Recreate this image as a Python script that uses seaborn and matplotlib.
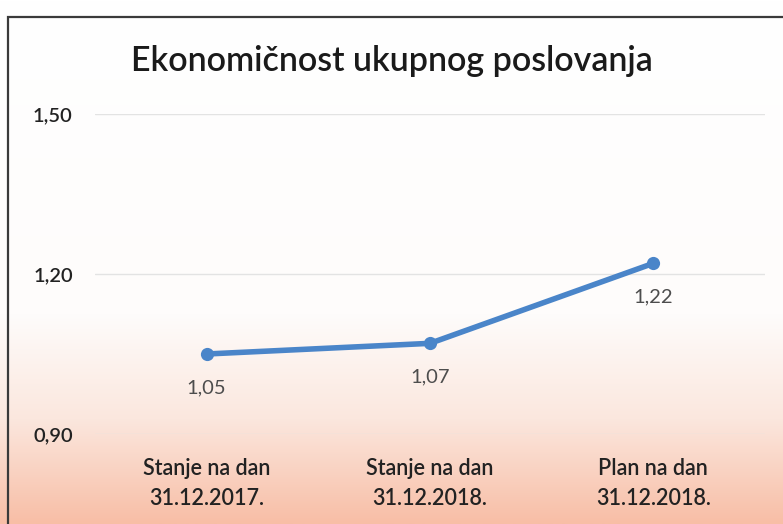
import matplotlib
matplotlib.use("Agg")
import matplotlib.pyplot as plt
import numpy as np
import pandas as pd
import seaborn as sns
from matplotlib.colors import LinearSegmentedColormap
from matplotlib.patches import Rectangle

categories = ["Stanje na dan\n31.12.2017.", "Stanje na dan\n31.12.2018.", "Plan na dan\n31.12.2018."]
values = [1.05, 1.07, 1.22]
value_labels = ["1,05", "1,07", "1,22"]
y_ticks = [0.90, 1.20, 1.50]
y_tick_labels = ["0,90", "1,20", "1,50"]
title = "Ekonomičnost ukupnog poslovanja"

sns.set_theme(style="white")
plt.rcParams["font.family"] = ["Lato", "DejaVu Sans"]

df = pd.DataFrame({"kategorija": categories, "vrijednost": values})

fig = plt.figure(figsize=(7.83, 5.24), dpi=100)

# background: white fading to peach at the bottom
bg = fig.add_axes([0, 0, 1, 1], zorder=-10)
grad = np.linspace(0, 1, 256).reshape(-1, 1)
cmap = LinearSegmentedColormap.from_list(
    "bgfade", [(0.0, "#ffffff"), (0.6, "#fefcfb"), (0.8, "#fbe7de"), (1.0, "#f8bea6")]
)
bg.imshow(grad, aspect="auto", cmap=cmap, extent=[0, 1, 0, 1], origin="upper")
bg.add_patch(Rectangle((8 / 783, -0.1), 1.2, 1 - 17 / 524 + 0.1, fill=False,
                       edgecolor="#3a3a3a", lw=1.6, transform=bg.transAxes))
bg.set_xlim(0, 1)
bg.set_ylim(0, 1)
bg.axis("off")

ax = fig.add_axes([95 / 783, 1 - 434 / 524, 670 / 783, 320 / 524])
ax.patch.set_alpha(0)
sns.lineplot(data=df, x="kategorija", y="vrijednost", ax=ax, color="#4a85c9",
             lw=4, marker="o", markersize=9.5, markeredgewidth=0, sort=False)

for i, (v, lab) in enumerate(zip(values, value_labels)):
    ax.annotate(lab, (i, v), xytext=(0, -18), textcoords="offset points",
                ha="center", va="top", fontsize=14.5, color="#4d4d4d")

ax.set_xlim(-0.5, 2.5)
ax.set_ylim(0.90, 1.50)
ax.set_yticks(y_ticks, y_tick_labels)
ax.set_xticks(range(len(categories)), categories)
for t in ax.get_xticklabels():
    t.set_linespacing(1.55)
    t.set_fontweight("semibold")
for t in ax.get_yticklabels():
    t.set_fontweight("semibold")
ax.grid(axis="y", color="#e3e3e3", lw=1)
ax.tick_params(axis="y", length=0, labelsize=14.5, labelcolor="#222222", pad=16)
ax.tick_params(axis="x", length=0, labelsize=15.5, labelcolor="#222222", pad=17)
ax.set_xlabel("")
ax.set_ylabel("")
sns.despine(ax=ax, left=True, bottom=True)

fig.text(0.5, 1 - 61 / 524, title, ha="center", va="center", fontsize=24.5,
         color="#1a1a1a", fontweight="semibold")

fig.savefig("out.png", dpi=100)
